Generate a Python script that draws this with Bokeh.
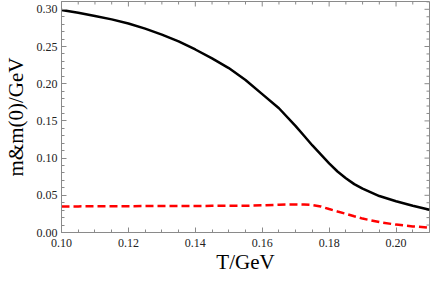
import math
from bokeh.plotting import figure
from bokeh.models import Range1d, FixedTicker, PrintfTickFormatter
from bokeh.embed import file_html
from bokeh.resources import INLINE

# Temperature (GeV)
T = [0.100, 0.105, 0.110, 0.115, 0.120, 0.125, 0.130, 0.135, 0.140, 0.145,
     0.150, 0.155, 0.160, 0.165, 0.170, 0.1725, 0.175, 0.1775, 0.180, 0.1825,
     0.185, 0.1875, 0.190, 0.195, 0.200, 0.205, 0.210]
# solid black curve
m_black = [0.299, 0.2955, 0.291, 0.2865, 0.281, 0.274, 0.266, 0.257, 0.246, 0.234,
           0.221, 0.205, 0.186, 0.167, 0.143, 0.130, 0.117, 0.105, 0.093, 0.082,
           0.073, 0.065, 0.059, 0.049, 0.042, 0.036, 0.0305]
# dashed red curve
m_red = [0.0350, 0.0351, 0.0352, 0.0353, 0.0354, 0.0355, 0.0356, 0.0357, 0.0357, 0.0358,
         0.0359, 0.0360, 0.0365, 0.0373, 0.0378, 0.0376, 0.0369, 0.0350, 0.0315, 0.0283,
         0.0252, 0.0218, 0.0187, 0.0140, 0.0106, 0.0082, 0.0065]

x_major = [0.10, 0.12, 0.14, 0.16, 0.18, 0.20]
x_minor = [0.105, 0.110, 0.115, 0.125, 0.130, 0.135, 0.145, 0.150,
           0.155, 0.165, 0.170, 0.175, 0.185, 0.190, 0.195, 0.205]
y_major = [0.00, 0.05, 0.10, 0.15, 0.20, 0.25, 0.30]
y_minor = [0.01, 0.02, 0.03, 0.04, 0.06, 0.07, 0.08, 0.09, 0.11, 0.12, 0.13, 0.14,
           0.16, 0.17, 0.18, 0.19, 0.21, 0.22, 0.23, 0.24, 0.26, 0.27, 0.28, 0.29, 0.31]

X0, X1 = 0.10, 0.21
Y0, Y1 = 0.0, 0.3105
x_label = "T/GeV"
y_label = "m&m(0)/GeV"

FONT = "Liberation Serif"
FRAME = "#8a8a8a"

p = figure(width=431, height=276, output_backend="svg", toolbar_location=None,
           x_range=Range1d(X0, X1), y_range=Range1d(Y0, Y1),
           min_border_left=51, min_border_right=2, min_border_top=1, min_border_bottom=0)
p.xgrid.visible = False
p.ygrid.visible = False
p.outline_line_color = FRAME
p.outline_line_width = 1
p.background_fill_color = "white"
p.border_fill_color = "white"


def style(ax, major, minor):
    ax.ticker = FixedTicker(ticks=major, minor_ticks=minor)
    ax.axis_line_color = FRAME
    ax.axis_line_width = 1
    ax.major_tick_line_color = FRAME
    ax.minor_tick_line_color = FRAME
    ax.major_tick_in = 5
    ax.major_tick_out = 0
    ax.minor_tick_in = 3
    ax.minor_tick_out = 0
    ax.formatter = PrintfTickFormatter(format="%.2f")
    ax.major_label_text_font = FONT
    ax.major_label_text_font_size = "12px"
    ax.major_label_text_color = "#222222"
    ax.axis_label_text_font = FONT
    ax.axis_label_text_font_size = "21px"
    ax.axis_label_text_font_style = "normal"
    ax.axis_label_text_color = "black"


style(p.xaxis[0], x_major, x_minor)
style(p.yaxis[0], y_major, y_minor)

p.xaxis[0].axis_label = x_label
p.xaxis[0].major_label_standoff = 6
p.xaxis[0].axis_label_standoff = 0
p.yaxis[0].axis_label = y_label
p.yaxis[0].major_label_standoff = 4
p.yaxis[0].axis_label_standoff = 6

# mirrored frame ticks on the top and right edges
p.ray(x=x_major, y=[Y1] * len(x_major), length=5, length_units="screen",
      angle=-math.pi / 2, line_color=FRAME, line_width=1)
p.ray(x=x_minor, y=[Y1] * len(x_minor), length=3, length_units="screen",
      angle=-math.pi / 2, line_color=FRAME, line_width=1)
p.ray(x=[X1] * len(y_major), y=y_major, length=5, length_units="screen",
      angle=math.pi, line_color=FRAME, line_width=1)
p.ray(x=[X1] * len(y_minor), y=y_minor, length=3, length_units="screen",
      angle=math.pi, line_color=FRAME, line_width=1)

p.line(T, m_black, line_color="black", line_width=2.5)
p.line(T, m_red, line_color="#ff0000", line_width=2.5, line_dash="8 4")

open("out.html", "w").write(file_html(p, INLINE))
